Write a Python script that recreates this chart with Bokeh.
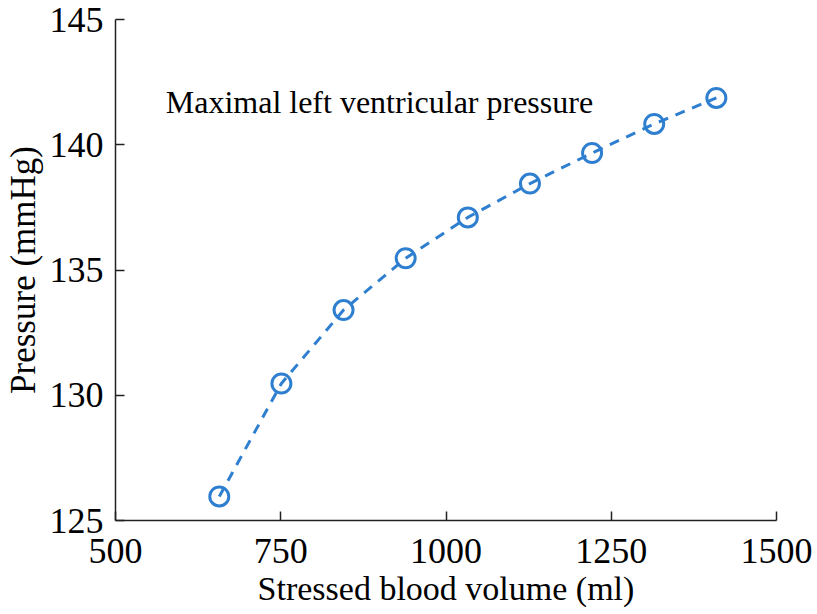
from bokeh.plotting import figure
from bokeh.models import Range1d, FixedTicker, ColumnDataSource
from bokeh.core.properties import value
from bokeh.embed import file_html
from bokeh.resources import INLINE

volume = [657, 751, 845, 939, 1033, 1127, 1221, 1315, 1409]
pressure = [125.96, 130.47, 133.4, 135.47, 137.1, 138.45, 139.67, 140.83, 141.87]
x_ticks = [500, 750, 1000, 1250, 1500]
y_ticks = [125, 130, 135, 140, 145]
annotation = "Maximal left ventricular pressure"

FONT = "Liberation Serif"
BLUE = "#2f7fd0"

p = figure(width=817, height=614, output_backend="svg", toolbar_location=None,
           x_range=Range1d(500, 1500), y_range=Range1d(125, 145),
           min_border_left=115, min_border_right=41, min_border_top=19, min_border_bottom=94)
p.outline_line_color = None
p.grid.visible = False
p.background_fill_color = "white"

src = ColumnDataSource(dict(x=volume, y=pressure))
p.line("x", "y", source=src, line_color=BLUE, line_width=3, line_dash="10 8")
p.scatter("x", "y", source=src, size=19, fill_color=None, line_color=BLUE, line_width=3)

p.text(x=[576], y=[141.7], text=[annotation], text_font=value(FONT),
       text_font_size="32px", text_baseline="middle", text_align="left", text_color="black")

for ax in (p.xaxis[0], p.yaxis[0]):
    ax.axis_line_color = "#222222"
    ax.axis_line_width = 1.5
    ax.major_tick_in = 9
    ax.major_tick_out = 0
    ax.minor_tick_line_color = None
    ax.major_tick_line_color = "#222222"
    ax.major_tick_line_width = 1.5
    ax.major_label_text_font = FONT
    ax.major_label_text_font_size = "36px"
    ax.major_label_text_color = "black"
    ax.axis_label_text_font = FONT
    ax.axis_label_text_font_style = "normal"
    ax.axis_label_text_color = "black"

p.xaxis.axis_label_text_font_size = "34px"
p.yaxis.axis_label_text_font_size = "35px"
p.xaxis.ticker = FixedTicker(ticks=x_ticks)
p.yaxis.ticker = FixedTicker(ticks=y_ticks)
p.xaxis.axis_label = "Stressed blood volume (ml)"
p.yaxis.axis_label = "Pressure (mmHg)"
p.xaxis.major_label_standoff = 18
p.yaxis.major_label_standoff = 12
p.xaxis.axis_label_standoff = 4
p.yaxis.axis_label_standoff = 4

open("out.html", "w").write(file_html(p, INLINE))
